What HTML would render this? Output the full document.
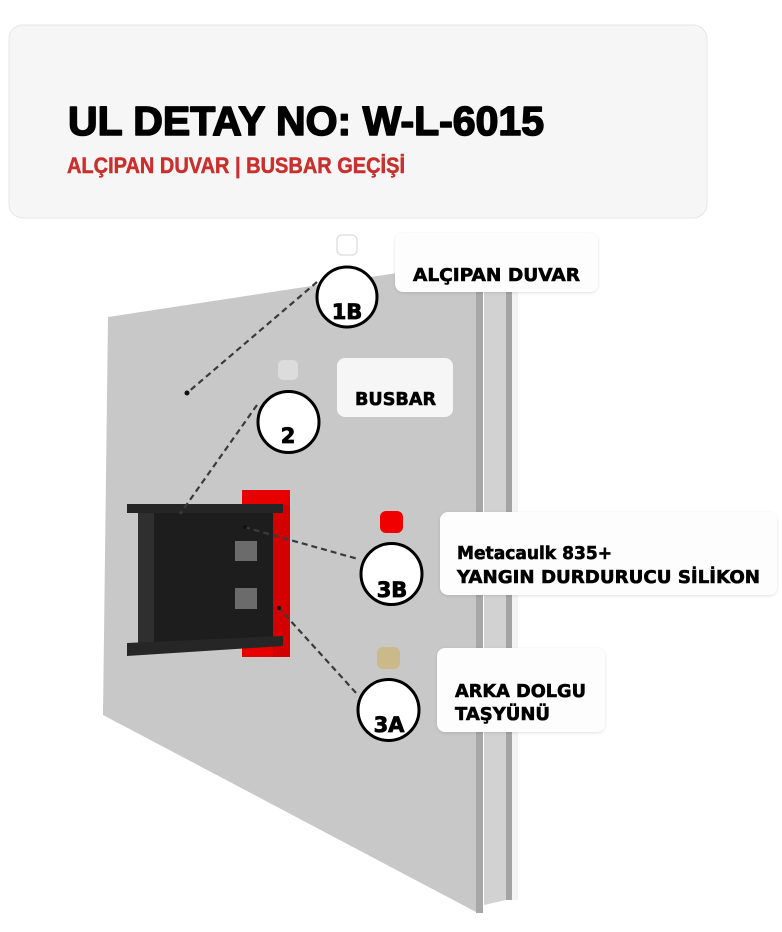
<!DOCTYPE html>
<html><head><meta charset="utf-8"><style>
html,body{margin:0;padding:0;background:#fff;}
svg{display:block;}
</style></head><body>
<svg width="782" height="932" viewBox="0 0 782 932" xmlns="http://www.w3.org/2000/svg">
<defs>
<filter id="sh" x="-10%" y="-20%" width="120%" height="140%">
<feDropShadow dx="0" dy="1" stdDeviation="1.5" flood-color="#000" flood-opacity="0.12"/>
</filter>
</defs>
<rect x="0" y="0" width="782" height="932" fill="#ffffff"/>
<!-- header -->
<rect x="9" y="25" width="698" height="193" rx="14" fill="#f6f6f6" stroke="#e6e6e6" stroke-width="1"/>
<text x="68" y="135" font-family="Liberation Sans, sans-serif" font-weight="bold" font-size="41" fill="#000" stroke="#000" stroke-width="1.6" stroke-linejoin="round" textLength="476" lengthAdjust="spacingAndGlyphs">UL DETAY NO: W-L-6015</text>
<text x="67" y="173" font-family="Liberation Sans, sans-serif" font-weight="bold" font-size="22" fill="#c8302e" stroke="#c8302e" stroke-width="0.5" textLength="338" lengthAdjust="spacingAndGlyphs">ALÇIPAN DUVAR | BUSBAR GEÇİŞİ</text>

<!-- wall back panels -->
<polygon points="484,258 506,256 506,900 484,905" fill="#d2d2d2"/>
<rect x="506" y="256" width="6" height="644" fill="#a4a4a4"/>
<rect x="512" y="256" width="6" height="644" fill="#f3f3f3"/>
<!-- front face -->
<polygon points="108,317 476,261 476,912 103,715" fill="#c8c8c8"/>
<rect x="476" y="260" width="7" height="653" fill="#a7a7a7"/>

<!-- busbar -->
<rect x="242" y="490" width="48" height="167" fill="#e60000"/>
<rect x="273" y="505" width="17" height="152" fill="#d20000"/>
<rect x="138" y="510" width="135" height="135" fill="#1d1d1d"/>
<rect x="138" y="510" width="16" height="135" fill="#2f2f2f"/>
<polygon points="127,504 283,504 283,513 127,513" fill="#252525"/>
<polygon points="127,643 283,636 283,646 127,656" fill="#262626"/>
<rect x="235" y="541" width="22" height="20" fill="#6b6b6b"/>
<rect x="235" y="588" width="22" height="21" fill="#6b6b6b"/>

<!-- dashed leaders -->
<g stroke="#3a3a3a" stroke-width="2.2" stroke-dasharray="6,4" fill="none">
<line x1="317" y1="282" x2="187" y2="393"/>
<line x1="257" y1="405" x2="180" y2="514"/>
<line x1="244" y1="527" x2="358" y2="559"/>
<line x1="278" y1="607" x2="357" y2="694"/>
</g>
<circle cx="187" cy="393" r="2.5" fill="#111"/>
<circle cx="245" cy="527" r="2" fill="#111"/>
<circle cx="279" cy="608" r="2" fill="#111"/>

<!-- small markers -->
<rect x="337" y="235" width="20" height="20" rx="5" fill="#fff" stroke="#e2e2e2" stroke-width="1.5"/>
<rect x="278" y="360" width="20" height="20" rx="5" fill="#dcdcdc"/>
<rect x="380" y="511" width="23" height="22" rx="6" fill="#f00000"/>
<rect x="377" y="647" width="23" height="22" rx="6" fill="#cbb98a"/>

<!-- circles -->
<g fill="#fff" stroke="#000" stroke-width="3">
<circle cx="347" cy="297" r="30"/>
<circle cx="288.5" cy="422" r="30.5"/>
<circle cx="391.5" cy="574" r="30.5"/>
<circle cx="388.5" cy="710" r="30.5"/>
</g>
<g font-family="DejaVu Sans, sans-serif" font-weight="bold" font-size="21" fill="#000" stroke="#000" stroke-width="0.8" text-anchor="middle">
<text x="347" y="319">1B</text>
<text x="288" y="443">2</text>
<text x="392" y="597">3B</text>
<text x="389" y="732">3A</text>
</g>

<!-- label boxes -->
<rect x="395" y="233" width="203" height="59" rx="8" fill="#fdfdfd" filter="url(#sh)"/>
<rect x="337" y="358" width="116" height="59" rx="8" fill="#f6f6f6"/>
<rect x="440" y="512" width="337" height="83" rx="8" fill="#fdfdfd" filter="url(#sh)"/>
<rect x="437" y="648" width="168" height="84" rx="8" fill="#fdfdfd" filter="url(#sh)"/>

<g font-family="DejaVu Sans, sans-serif" font-weight="bold" font-size="18" fill="#000" stroke="#000" stroke-width="0.6">
<text x="413" y="281" textLength="167" lengthAdjust="spacingAndGlyphs">ALÇIPAN DUVAR</text>
<text x="355" y="405" textLength="81" lengthAdjust="spacingAndGlyphs">BUSBAR</text>
<text x="457" y="559" textLength="155" lengthAdjust="spacingAndGlyphs">Metacaulk 835+</text>
<text x="457" y="583" textLength="303" lengthAdjust="spacingAndGlyphs">YANGIN DURDURUCU SİLİKON</text>
<text x="455" y="697" textLength="131" lengthAdjust="spacingAndGlyphs">ARKA DOLGU</text>
<text x="455" y="720" textLength="95" lengthAdjust="spacingAndGlyphs">TAŞYÜNÜ</text>
</g>
</svg>
</body></html>
